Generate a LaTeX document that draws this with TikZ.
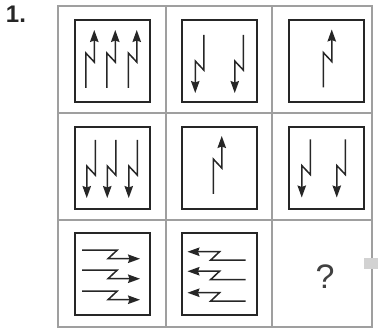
\documentclass[tikz,border=0pt]{standalone}
\usepackage{fontspec}
\setmainfont{Liberation Sans}
\usetikzlibrary{arrows.meta}

\tikzset{
  gridline/.style={gray!75, line width=1.5pt},
  cellbox/.style={black!85, line width=1.4pt},
  zig/.pic={
    \draw[black!85, line width=1.5pt, -{Stealth[length=12pt,width=8.5pt,inset=1.5pt]}]
      (-4.25,29) -- (-4.25,-6) -- (4.25,3) -- (4.25,-29);
  }
}

\begin{document}
\begin{tikzpicture}[x=1pt, y=-1pt]
  \def\gl{58} \def\gr{372} \def\gt{6} \def\gb{327}
  \useasboundingbox (0,0) rectangle (378,331);

  % number
  \node[font=\fontsize{24}{26}\selectfont\bfseries, text=black!85, inner sep=0pt] (num) at (16,14) {1.};

  % outer grid: 3 x 3 cells
  \draw[gridline] (\gl,\gt) rectangle (\gr,\gb);
  \foreach \x in {166,272} { \draw[gridline] (\x,\gt) -- (\x,\gb); }
  \foreach \y in {113,220} { \draw[gridline] (\gl,\y) -- (\gr,\y); }

  % inner boxes (last cell empty)
  \foreach \x/\y in {75/20,182/20,289/20,75/127,182/127,289/127,75/233,182/233} {
    \draw[cellbox] (\x,\y) rectangle +(75,82);
  }

  % row 1: three up, two down, one up
  \foreach \x in {90,111,132.5} { \pic at (\x,59) {zig}; }
  \foreach \x in {199.5,239} { \pic[rotate=180] at (\x,64) {zig}; }
  \pic at (327.5,58.5) {zig};

  % row 2: three down, one up, two down
  \foreach \x in {91,111.5,133} { \pic[rotate=180] at (\x,169) {zig}; }
  \pic at (217.5,165) {zig};
  \foreach \x in {306,341} { \pic[rotate=180] at (\x,168.5) {zig}; }

  % row 3: three right, three left, ?
  \foreach \y in {254.5,274.5,295.5} { \pic[rotate=-90] at (111,\y) {zig}; }
  \foreach \y in {256,275.5,297} { \pic[rotate=90] at (216.5,\y) {zig}; }
  \node[font=\fontsize{34}{36}\selectfont, text=black!75, inner sep=0pt] (qmark) at (325,277) {?};

  % smudge at right edge
  \fill[gray!35] (364,258) rectangle (378,269);
\end{tikzpicture}
\end{document}
